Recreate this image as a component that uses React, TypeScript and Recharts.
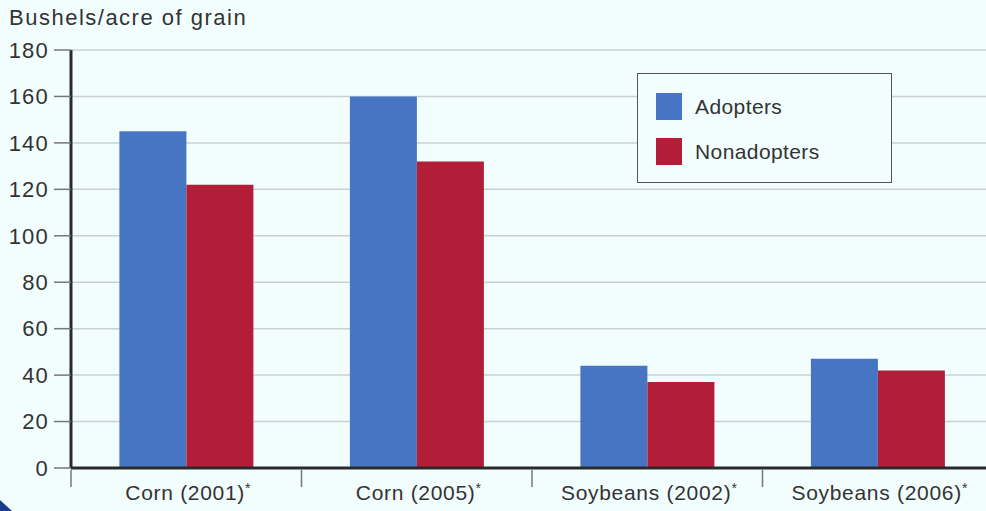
import React from 'react';
import { BarChart, Bar, XAxis, YAxis, CartesianGrid, Legend } from 'recharts';

const crops = ['Corn (2001)', 'Corn (2005)', 'Soybeans (2002)', 'Soybeans (2006)'];
const adopters = [145, 160, 44, 47];
const nonadopters = [122, 132, 37, 42];
const yTicks = [0, 20, 40, 60, 80, 100, 120, 140, 160, 180];

const colors = {
  bg: '#F2FDFE',
  adopters: '#4676C3',
  nonadopters: '#B21E38',
  grid: '#C9D1D6',
  axis: '#2A2A2A',
  text: '#333333',
};

const FONT = '"Liberation Sans", Arial, sans-serif';

const CHART_W = 1000;
const CHART_H = 511;
const PLOT_LEFT = 71;
const PLOT_RIGHT = 993;
const bandWidth = (PLOT_RIGHT - PLOT_LEFT) / crops.length;

const data = crops.map((crop, i) => ({
  crop,
  Adopters: adopters[i],
  Nonadopters: nonadopters[i],
}));

// category label centred in its band (with footnote star), tick mark on the band's left edge
const CropTick = (props: any) => {
  const { x, y, payload } = props;
  const left = x - bandWidth / 2;
  return (
    <g>
      <line x1={left} y1={y + 2} x2={left} y2={y + 19} stroke="#777" strokeWidth={1.5} />
      <text
        x={x + 2}
        y={y + 32}
        textAnchor="middle"
        fill={colors.text}
        fontSize={21}
        letterSpacing={0.7}
        fontFamily={FONT}
      >
        {payload.value}
        <tspan fontSize={14} dy={-7}>*</tspan>
      </text>
    </g>
  );
};

const LegendBox = () => (
  <div
    style={{
      width: 255,
      height: 110,
      border: '1.5px solid #555',
      background: colors.bg,
      boxSizing: 'border-box',
      fontFamily: FONT,
      fontSize: 21,
      letterSpacing: 0.4,
      color: colors.text,
      position: 'relative',
    }}
  >
    {[
      { label: 'Adopters', color: colors.adopters, top: 19 },
      { label: 'Nonadopters', color: colors.nonadopters, top: 64 },
    ].map((item) => (
      <div key={item.label} style={{ position: 'absolute', left: 18, top: item.top, display: 'flex', alignItems: 'center' }}>
        <div style={{ width: 26, height: 27, background: item.color }} />
        <span style={{ marginLeft: 13 }}>{item.label}</span>
      </div>
    ))}
  </div>
);

export default function App() {
  return (
    <div
      style={{
        position: 'absolute',
        left: 0,
        top: 0,
        width: 986,
        height: 511,
        overflow: 'hidden',
        background: colors.bg,
      }}
    >
      <div
        style={{
          position: 'absolute',
          left: 9,
          top: 5,
          fontFamily: FONT,
          fontSize: 22,
          color: colors.text,
          letterSpacing: 1.5,
        }}
      >
        Bushels/acre of grain
      </div>
      <BarChart
        width={CHART_W}
        height={CHART_H}
        data={data}
        margin={{ top: 50, right: CHART_W - PLOT_RIGHT, left: 0, bottom: 0 }}
        barCategoryGap="21%"
        barGap={0}
      >
        <CartesianGrid vertical={false} stroke={colors.grid} strokeWidth={1.5} />
        <YAxis
          width={PLOT_LEFT}
          domain={[0, 180]}
          ticks={yTicks}
          interval={0}
          axisLine={{ stroke: colors.axis, strokeWidth: 3 }}
          tickLine={{ stroke: '#777', strokeWidth: 1.5 }}
          tickSize={17}
          tickMargin={5}
          tick={{ fill: colors.text, fontSize: 22, fontFamily: FONT, letterSpacing: 1.2 }}
        />
        <XAxis
          dataKey="crop"
          height={43}
          interval={0}
          axisLine={{ stroke: colors.axis, strokeWidth: 3 }}
          tickLine={false}
          tickSize={0}
          tickMargin={0}
          tick={<CropTick />}
        />
        <Legend
          layout="horizontal"
          verticalAlign="middle"
          align="center"
          wrapperStyle={{ left: 637, top: 73, width: 255 }}
          content={() => <LegendBox />}
        />
        <Bar dataKey="Adopters" fill={colors.adopters} isAnimationActive={false} />
        <Bar dataKey="Nonadopters" fill={colors.nonadopters} isAnimationActive={false} />
      </BarChart>
      <div
        style={{
          position: 'absolute',
          left: 0,
          top: 500,
          width: 12,
          height: 11,
          background: '#1B3C8C',
          clipPath: 'polygon(0 0, 100% 100%, 0 100%)',
        }}
      />
    </div>
  );
}
